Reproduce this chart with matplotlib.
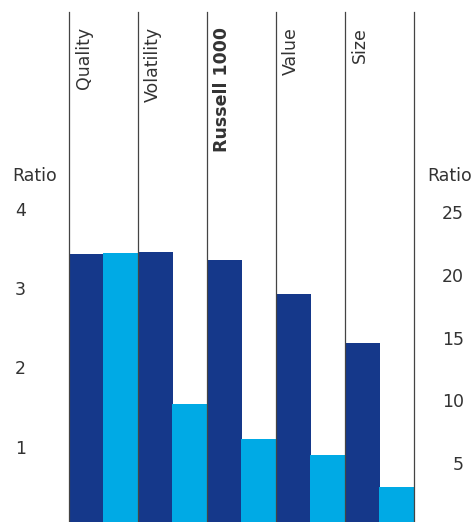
import numpy as np
import matplotlib
matplotlib.use("Agg")
import matplotlib.pyplot as plt

categories = ["Quality", "Volatility", "Russell 1000", "Value", "Size"]
left_ratio = [3.43, 3.46, 3.36, 2.93, 2.31]     # dark bars, left axis
right_ratio = [21.7, 9.7, 6.9, 5.65, 3.1]       # light bars, right axis
left_ticks = [1, 2, 3, 4]
right_ticks = [5, 10, 15, 20, 25]

dark = "#15388A"
light = "#00AAE5"
text_c = "#333333"
W, H = 476, 522

fig = plt.figure(figsize=(W / 100, H / 100), dpi=100)
ax = fig.add_axes([69 / W, -4 / H, 345 / W, 514 / H])
ax2 = ax.twinx()

x = np.arange(len(categories))
ax.bar(x, left_ratio, width=0.5, align="edge", color=dark, zorder=2)
ax2.bar(x + 0.5, right_ratio, width=0.5, align="edge", color=light, zorder=2)

ax.set_xlim(0, len(categories))
ax.set_ylim(0, 514 / 79.25)
ax2.set_ylim(0, 514 / 12.56)

for a in (ax, ax2):
    for s in a.spines.values():
        s.set_visible(False)
    a.set_xticks([])

for i in range(len(categories) + 1):
    ax2.axvline(i, color="#444444", lw=0.9, zorder=5, clip_on=False)

ax.set_yticks(left_ticks)
ax.set_yticklabels([str(t) for t in left_ticks])
ax.tick_params(axis="y", length=0, pad=31, labelsize=12.5, labelcolor=text_c)

ax2.set_yticks(right_ticks)
ax2.set_yticklabels([str(t) for t in right_ticks])
ax2.tick_params(axis="y", length=0, pad=36, labelsize=12.5, labelcolor=text_c)
for lbl in ax2.get_yticklabels():
    lbl.set_horizontalalignment("right")

fig.text(12 / W, 1 - 176 / H, "Ratio", ha="left", va="center",
         fontsize=12.5, color=text_c)
fig.text(427 / W, 1 - 176 / H, "Ratio", ha="left", va="center",
         fontsize=12.5, color=text_c)

for i, name in enumerate(categories):
    fig.text((69 + 69 * i + 6) / W, 1 - 27 / H, name, rotation=90,
             ha="left", va="top", fontsize=12.5, color=text_c,
             fontweight="bold" if name == "Russell 1000" else "normal")

fig.savefig("out.png", dpi=100)
